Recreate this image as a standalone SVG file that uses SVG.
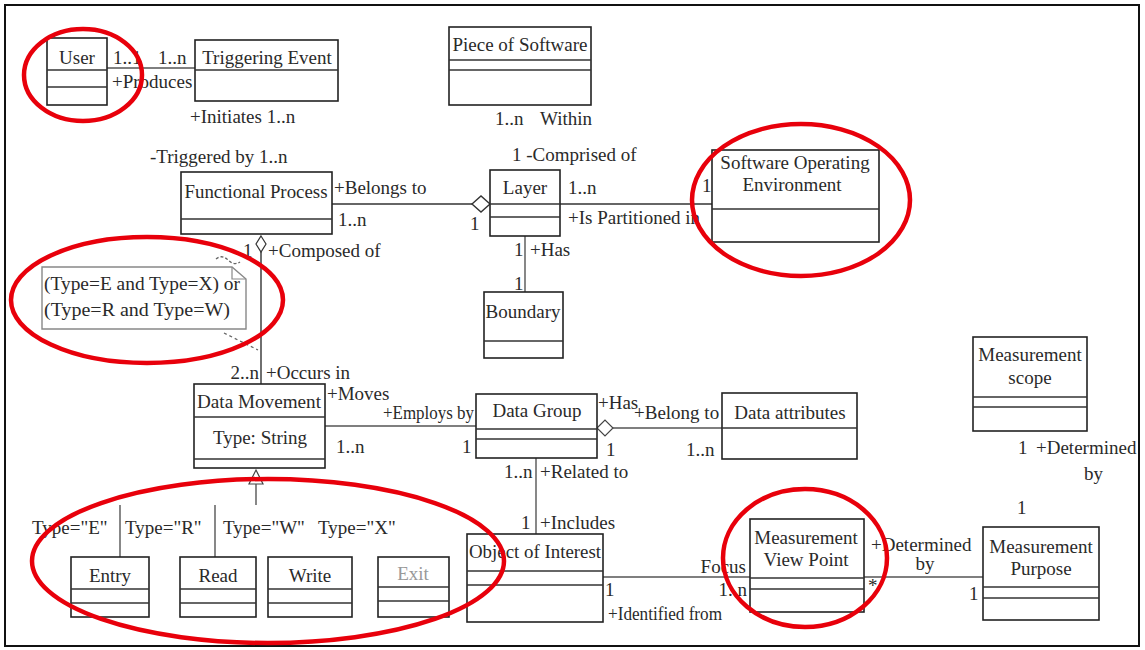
<svg xmlns="http://www.w3.org/2000/svg" width="1145" height="650" viewBox="0 0 1145 650">
<style>
.bx{fill:#fff;stroke:#222;stroke-width:1.6}
.ln{stroke:#333;stroke-width:1.4;fill:none}
.cn{stroke:#555;stroke-width:1.4;fill:none}
.t{font-family:"Liberation Serif","Times New Roman",serif;font-size:19px;fill:#2a2a2a}
.c{text-anchor:middle}
.g{fill:#999}
.red{fill:none;stroke:#e8000b;stroke-width:4.5}
</style>
<rect x="0" y="0" width="1145" height="650" fill="#fff"/>
<rect x="5" y="5" width="1134" height="641" fill="none" stroke="#111" stroke-width="2"/>

<g id="connectors">
  <line class="cn" x1="107" y1="68" x2="195" y2="68"/>
  <line class="ln" x1="332" y1="204" x2="472" y2="204" stroke-width="2"/>
  <polygon points="472,204 481,196 490,204 481,212" fill="#fff" stroke="#333" stroke-width="1.4"/>
  <line class="ln" x1="560" y1="204" x2="712" y2="204" stroke-width="1.8"/>
  <line class="cn" x1="525" y1="236" x2="525" y2="292"/>
  <line class="ln" x1="261" y1="252" x2="261" y2="384" stroke-width="1.8"/>
  <polygon points="261,236 266,244 261,252 256,244" fill="#fff" stroke="#333" stroke-width="1.2"/>
  <line class="cn" x1="325" y1="426" x2="476" y2="426" stroke="#888"/>
  <polygon points="597,428 605,420 613,428 605,436" fill="#fff" stroke="#444" stroke-width="1.2"/>
  <line class="cn" x1="613" y1="428" x2="722" y2="428" stroke="#888"/>
  <line class="cn" x1="536" y1="458" x2="536" y2="534" stroke="#999"/>
  <line class="cn" x1="603" y1="577" x2="750" y2="577" stroke="#777"/>
  <line class="cn" x1="864" y1="577" x2="983" y2="577" stroke="#888"/>
  <polygon points="256,470 263,484 249,484" fill="#fff" stroke="#444" stroke-width="1.2"/>
  <line class="cn" x1="256" y1="484" x2="256" y2="505"/>
  <line class="cn" x1="120" y1="505" x2="120" y2="557"/>
  <line class="cn" x1="215" y1="505" x2="215" y2="557" stroke="#777"/>
  <path d="M216,259 Q222,254 228,260 T240,262" fill="none" stroke="#666" stroke-width="1.3" stroke-dasharray="3,2"/>
  <line x1="224" y1="333" x2="258" y2="350" stroke="#666" stroke-width="1.3" stroke-dasharray="3,3"/>
</g>

<g id="user">
  <rect class="bx" x="47" y="38" width="60" height="67"/>
  <line class="ln" x1="47" y1="70" x2="107" y2="70"/>
  <line class="ln" x1="47" y1="87" x2="107" y2="87" stroke="#888"/>
  <text class="t c" x="77" y="64">User</text>
</g>
<g id="triggering-event">
  <rect class="bx" x="195" y="40" width="143" height="61"/>
  <line class="ln" x1="195" y1="70" x2="338" y2="70"/>
  <text class="t c" x="267" y="64">Triggering Event</text>
</g>
<g id="piece-of-software">
  <rect class="bx" x="449" y="27" width="142" height="78"/>
  <line class="ln" x1="449" y1="60" x2="591" y2="60" stroke-width="2"/>
  <line class="ln" x1="449" y1="70" x2="591" y2="70" stroke="#888"/>
  <text class="t c" x="520" y="51">Piece of Software</text>
</g>
<g id="functional-process">
  <rect class="bx" x="181" y="172" width="151" height="62"/>
  <line class="ln" x1="181" y1="219" x2="332" y2="219" stroke="#888"/>
  <text class="t c" x="256" y="198" textLength="143" lengthAdjust="spacingAndGlyphs">Functional Process</text>
</g>
<g id="layer">
  <rect class="bx" x="490" y="170" width="70" height="66" stroke="#555"/>
  <line class="ln" x1="490" y1="204" x2="560" y2="204" stroke-width="2"/>
  <line class="ln" x1="490" y1="217" x2="560" y2="217" stroke="#999"/>
  <text class="t c" x="525" y="194">Layer</text>
</g>
<g id="software-operating-environment">
  <rect class="bx" x="712" y="150" width="167" height="92"/>
  <line class="ln" x1="712" y1="209" x2="879" y2="209" stroke="#aaa"/>
  <text class="t c" x="795" y="169">Software Operating</text>
  <text class="t c" x="792" y="191">Environment</text>
</g>
<g id="boundary">
  <rect class="bx" x="484" y="292" width="79" height="66"/>
  <line class="ln" x1="484" y1="341" x2="563" y2="341" stroke-width="2"/>
  <text class="t c" x="523" y="318">Boundary</text>
</g>
<g id="note">
  <path d="M42,267 H232 L246,279 V329 H42 Z" fill="#fff" stroke="#888" stroke-width="1.4"/>
  <path d="M232,267 V279 H246" fill="none" stroke="#888" stroke-width="1.2"/>
  <text class="t" x="44" y="290" font-size="18" textLength="196" lengthAdjust="spacingAndGlyphs">(Type=E and Type=X) or</text>
  <text class="t" x="44" y="316" font-size="18" textLength="186" lengthAdjust="spacingAndGlyphs">(Type=R and Type=W)</text>
</g>
<g id="data-movement">
  <rect class="bx" x="194" y="384" width="131" height="84" stroke="#555"/>
  <line class="ln" x1="194" y1="417" x2="325" y2="417"/>
  <line class="ln" x1="194" y1="459" x2="325" y2="459"/>
  <text class="t c" x="259" y="408" textLength="124" lengthAdjust="spacingAndGlyphs">Data Movement</text>
  <text class="t c" x="260" y="444">Type: String</text>
</g>
<g id="data-group">
  <rect class="bx" x="476" y="394" width="121" height="64"/>
  <line class="ln" x1="476" y1="429" x2="597" y2="429" stroke-width="2"/>
  <line class="ln" x1="476" y1="439" x2="597" y2="439" stroke="#777"/>
  <text class="t c" x="537" y="417">Data Group</text>
</g>
<g id="data-attributes">
  <rect class="bx" x="722" y="393" width="135" height="66"/>
  <line class="ln" x1="722" y1="428" x2="857" y2="428"/>
  <text class="t c" x="790" y="419">Data attributes</text>
</g>
<g id="measurement-scope">
  <rect class="bx" x="973" y="337" width="114" height="94" stroke="#555"/>
  <line class="ln" x1="973" y1="397" x2="1087" y2="397"/>
  <line class="ln" x1="973" y1="407" x2="1087" y2="407"/>
  <text class="t c" x="1030" y="361">Measurement</text>
  <text class="t c" x="1030" y="384">scope</text>
</g>
<g id="object-of-interest">
  <rect class="bx" x="467" y="534" width="136" height="88"/>
  <line class="ln" x1="467" y1="571" x2="603" y2="571" stroke="#888"/>
  <line class="ln" x1="467" y1="585" x2="603" y2="585" stroke-width="2"/>
  <text class="t c" x="535" y="558" textLength="132" lengthAdjust="spacingAndGlyphs">Object of Interest</text>
</g>
<g id="measurement-view-point">
  <rect class="bx" x="750" y="519" width="114" height="93" stroke="#555"/>
  <line class="ln" x1="750" y1="578" x2="864" y2="578" stroke="#999"/>
  <line class="ln" x1="750" y1="589" x2="864" y2="589" stroke="#777"/>
  <text class="t c" x="806" y="544">Measurement</text>
  <text class="t c" x="806" y="566">View Point</text>
</g>
<g id="measurement-purpose">
  <rect class="bx" x="983" y="527" width="116" height="93" stroke="#555"/>
  <line class="ln" x1="983" y1="587" x2="1099" y2="587" stroke="#999"/>
  <line class="ln" x1="983" y1="598" x2="1099" y2="598"/>
  <text class="t c" x="1041" y="553">Measurement</text>
  <text class="t c" x="1041" y="575">Purpose</text>
</g>
<g id="entry">
  <rect class="bx" x="71" y="557" width="78" height="60" stroke="#777"/>
  <line class="ln" x1="71" y1="589" x2="149" y2="589" stroke-width="2"/>
  <line class="ln" x1="71" y1="603" x2="149" y2="603"/>
  <text class="t c" x="110" y="582">Entry</text>
</g>
<g id="read">
  <rect class="bx" x="180" y="557" width="76" height="60" stroke="#555"/>
  <line class="ln" x1="180" y1="589" x2="256" y2="589" stroke-width="2"/>
  <line class="ln" x1="180" y1="603" x2="256" y2="603" stroke="#888"/>
  <text class="t c" x="218" y="582">Read</text>
</g>
<g id="write">
  <rect class="bx" x="268" y="557" width="84" height="60" stroke="#999"/>
  <line class="ln" x1="268" y1="589" x2="352" y2="589" stroke-width="2"/>
  <line class="ln" x1="268" y1="603" x2="352" y2="603" stroke-width="2"/>
  <text class="t c" x="310" y="582">Write</text>
</g>
<g id="exit">
  <rect class="bx" x="378" y="557" width="71" height="60" stroke="#bbb"/>
  <line class="ln" x1="378" y1="587" x2="449" y2="587"/>
  <line class="ln" x1="378" y1="601" x2="449" y2="601" stroke="#bbb"/>
  <text class="t c g" x="413" y="580">Exit</text>
</g>

<g id="labels">
  <text class="t" x="113" y="64">1..1</text>
  <text class="t" x="158" y="64">1..n</text>
  <text class="t" x="112" y="88">+Produces</text>
  <text class="t" x="190" y="123">+Initiates 1..n</text>
  <text class="t" x="495" y="125">1..n</text>
  <text class="t" x="540" y="125">Within</text>
  <text class="t" x="150" y="163">-Triggered by 1..n</text>
  <text class="t" x="334" y="194">+Belongs to</text>
  <text class="t" x="338" y="226">1..n</text>
  <text class="t" x="512" y="161">1 -Comprised of</text>
  <text class="t" x="568" y="194">1..n</text>
  <text class="t" x="568" y="224">+Is Partitioned in</text>
  <text class="t" x="470" y="230">1</text>
  <text class="t" x="702" y="192" font-size="10" fill="#888">1</text>
  <text class="t" x="514" y="256">1</text>
  <text class="t" x="530" y="256">+Has</text>
  <text class="t" x="514" y="290">1</text>
  <text class="t" x="243" y="257">1</text>
  <text class="t" x="268" y="257">+Composed of</text>
  <text class="t" x="259" y="379" text-anchor="end">2..n</text>
  <text class="t" x="266" y="379">+Occurs in</text>
  <text class="t" x="327" y="400">+Moves</text>
  <text class="t" x="383" y="419" textLength="91" lengthAdjust="spacingAndGlyphs">+Employs by</text>
  <text class="t" x="336" y="453">1..n</text>
  <text class="t" x="462" y="453">1</text>
  <text class="t" x="598" y="409">+Has</text>
  <text class="t" x="606" y="456">1</text>
  <text class="t" x="634" y="419">+Belong to</text>
  <text class="t" x="686" y="456">1..n</text>
  <text class="t" x="504" y="478">1..n</text>
  <text class="t" x="540" y="478">+Related to</text>
  <text class="t" x="521" y="529">1</text>
  <text class="t" x="540" y="529">+Includes</text>
  <text class="t" x="32" y="534">Type="E"</text>
  <text class="t" x="125" y="534">Type="R"</text>
  <text class="t" x="223" y="534">Type="W"</text>
  <text class="t" x="318" y="534">Type="X"</text>
  <text class="t" x="746" y="573" text-anchor="end">Focus</text>
  <text class="t" x="605" y="596">1</text>
  <text class="t" x="747" y="596" text-anchor="end">1..n</text>
  <text class="t" x="608" y="620" textLength="114" lengthAdjust="spacingAndGlyphs">+Identified from</text>
  <text class="t" x="871" y="551">+Determined</text>
  <text class="t c" x="925" y="570">by</text>
  <text class="t" x="868" y="592" font-size="11">*</text>
  <text class="t" x="969" y="600">1</text>
  <text class="t" x="1018" y="454">1</text>
  <text class="t" x="1036" y="454">+Determined</text>
  <text class="t" x="1084" y="480">by</text>
  <text class="t" x="1017" y="514">1</text>
</g>

<g id="annotations">
  <ellipse class="red" cx="83" cy="75" rx="59" ry="46"/>
  <ellipse class="red" cx="801" cy="200" rx="109" ry="76"/>
  <ellipse class="red" cx="147" cy="300" rx="136" ry="63"/>
  <ellipse class="red" cx="268" cy="561" rx="236" ry="82"/>
  <ellipse class="red" cx="805" cy="558" rx="82" ry="69"/>
</g>
</svg>
